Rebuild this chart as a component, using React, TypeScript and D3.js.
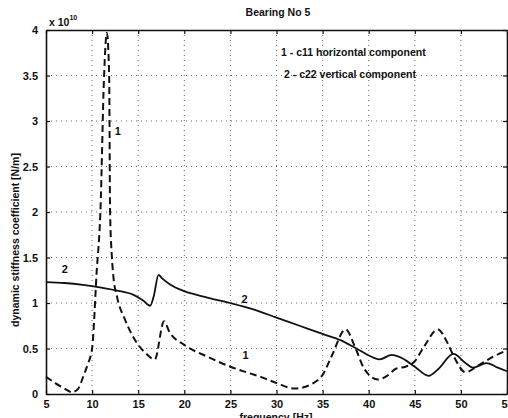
import React, { useEffect, useRef } from 'react';
import * as d3 from 'd3';

// curve 1 - c11 horizontal component (dashed), values x 10^10 N/m
const freq1 = [5, 6, 7, 7.8, 8.5, 9, 9.5, 10, 10.5, 10.9, 11.3, 11.6, 11.85, 11.95, 12.15, 12.3, 12.7, 13.6, 15, 15.8, 16.8, 17.8, 18.4, 20, 22.5, 25, 27, 28.5, 30, 32, 34, 35, 36, 37.5, 38.5, 39.5, 41, 42, 43, 44, 45, 46, 47.5, 48.5, 49.2, 50.5, 52, 53.5, 55];
const c11 = [0.19, 0.12, 0.06, 0.02, 0.06, 0.18, 0.32, 0.5, 1.35, 2.0, 3.5, 3.97, 3.5, 2.0, 1.5, 1.3, 1.07, 0.81, 0.54, 0.45, 0.38, 0.8, 0.68, 0.54, 0.41, 0.3, 0.23, 0.18, 0.12, 0.06, 0.12, 0.21, 0.42, 0.71, 0.52, 0.28, 0.16, 0.2, 0.28, 0.3, 0.36, 0.52, 0.71, 0.57, 0.42, 0.24, 0.32, 0.41, 0.48];

// curve 2 - c22 vertical component (solid)
const freq2 = [5, 7, 9, 11, 13, 14.5, 15.5, 16.3, 16.7, 17.2, 17.6, 18.5, 20, 22.5, 25, 27.5, 30, 32.5, 35, 37, 39, 40.5, 41.2, 42.5, 43.5, 45, 46.5, 47.5, 49.2, 50.5, 51.3, 52.8, 54, 55];
const c22 = [1.23, 1.22, 1.2, 1.17, 1.13, 1.09, 1.03, 0.97, 1.08, 1.31, 1.27, 1.2, 1.13, 1.06, 1.0, 0.93, 0.84, 0.75, 0.66, 0.59, 0.48, 0.4, 0.38, 0.43, 0.4, 0.3, 0.2, 0.27, 0.44, 0.34, 0.29, 0.34, 0.29, 0.25];

const xTicks = [5, 10, 15, 20, 25, 30, 35, 40, 45, 50, 55];
const yTicks = [0, 0.5, 1, 1.5, 2, 2.5, 3, 3.5, 4];

const W = 508;
const H = 418;
const font = 'Liberation Sans, Arial, sans-serif';

const App = () => {
  const ref = useRef<SVGSVGElement>(null);

  useEffect(() => {
    const svg = d3.select(ref.current);
    svg.selectAll('*').remove();
    const left = 46, right = 507, top = 30, bottom = 394;

    const x = d3.scaleLinear().domain([5, 55]).range([left, right]);
    const y = d3.scaleLinear().domain([0, 4]).range([bottom, top]);

    const g = svg.append('g');

    // dotted grid
    g.selectAll('.gx')
      .data(xTicks.slice(1, -1))
      .join('line')
      .attr('x1', d => x(d)).attr('x2', d => x(d))
      .attr('y1', top).attr('y2', bottom)
      .attr('stroke', '#666').attr('stroke-width', 1)
      .attr('stroke-dasharray', '1,4');
    g.selectAll('.gy')
      .data(yTicks.slice(1, -1))
      .join('line')
      .attr('x1', left).attr('x2', right)
      .attr('y1', d => y(d)).attr('y2', d => y(d))
      .attr('stroke', '#666').attr('stroke-width', 1)
      .attr('stroke-dasharray', '1,4');

    // axes with inward ticks
    const axB = g.append('g').attr('transform', `translate(0,${bottom})`)
      .call(d3.axisBottom(x).tickValues(xTicks).tickSizeInner(-4).tickSizeOuter(0).tickPadding(6).tickFormat(d3.format('d')));
    const axT = g.append('g').attr('transform', `translate(0,${top})`)
      .call(d3.axisTop(x).tickValues(xTicks).tickSizeInner(-4).tickSizeOuter(0).tickFormat(() => ''));
    const axL = g.append('g').attr('transform', `translate(${left},0)`)
      .call(d3.axisLeft(y).tickValues(yTicks).tickSizeInner(-4).tickSizeOuter(0).tickPadding(8).tickFormat(d => String(d)));
    const axR = g.append('g').attr('transform', `translate(${right},0)`)
      .call(d3.axisRight(y).tickValues(yTicks).tickSizeInner(-4).tickSizeOuter(0).tickFormat(() => ''));

    [axB, axT, axL, axR].forEach(a => {
      a.select('.domain').attr('stroke', '#111').attr('stroke-width', 1.6);
      a.selectAll('.tick line').attr('stroke', '#111').attr('stroke-width', 1.2);
      a.selectAll('text')
        .attr('font-family', font).attr('font-weight', 'bold')
        .attr('font-size', 11).attr('fill', '#111');
    });

    const path = d3.line<[number, number]>()
      .x(d => x(d[0])).y(d => y(d[1]))
      .curve(d3.curveMonotoneX);

    g.append('path')
      .datum(freq1.map((f, i) => [f, c11[i]] as [number, number]))
      .attr('d', path)
      .attr('fill', 'none').attr('stroke', '#111')
      .attr('stroke-width', 2).attr('stroke-dasharray', '7,4');

    g.append('path')
      .datum(freq2.map((f, i) => [f, c22[i]] as [number, number]))
      .attr('d', path)
      .attr('fill', 'none').attr('stroke', '#111')
      .attr('stroke-width', 1.8);

    const txt = (tx: number, ty: number, s: string, size = 11, anchor = 'start') =>
      g.append('text')
        .attr('x', tx).attr('y', ty)
        .attr('font-family', font).attr('font-weight', 'bold')
        .attr('font-size', size).attr('fill', '#111')
        .attr('text-anchor', anchor)
        .text(s);

    // curve labels
    txt(x(11.6) + 8, y(2.85), '1');
    txt(x(26.3), y(0.38), '1');
    txt(x(6.7), y(1.33), '2');
    txt(x(26.2), y(1.0), '2');

    // legend text
    txt(281, 56, '1 - c11 horizontal component', 10.5);
    txt(284, 78, '2 - c22 vertical component', 10.5);

    // title and exponent
    txt(278, 16, 'Bearing No 5', 10.5, 'middle');
    const ex = txt(49, 26, 'x 10', 10.5);
    ex.append('tspan').attr('dy', -6).attr('font-size', 7).text('10');

    // axis labels
    txt(276, 421, 'frequency [Hz]', 10.5, 'middle');
    g.append('text')
      .attr('transform', `translate(19,${(top + bottom) / 2 + 28}) rotate(-90)`)
      .attr('font-family', font).attr('font-weight', 'bold')
      .attr('font-size', 10.5).attr('fill', '#111')
      .attr('text-anchor', 'middle')
      .text('dynamic stiffness coefficient [N/m]');
  }, []);

  return (
    <svg ref={ref} width={W} height={H}
      style={{ position: 'absolute', left: 0, top: 0, background: '#fff' }} />
  );
};

export default App;
